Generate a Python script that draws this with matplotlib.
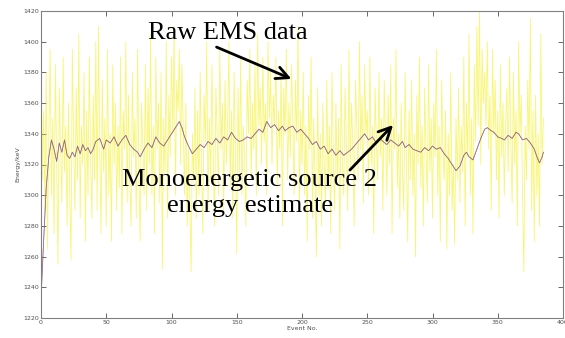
import numpy as np
import matplotlib
matplotlib.use("Agg")
import matplotlib.pyplot as plt

# raw EMS energy per event (events 0..385)
raw_energy = [
    1400, 1310, 1355, 1290, 1380, 1265, 1340, 1395, 1300, 1350, 1275, 1385, 1320, 1255, 1370, 1330, 1295, 1390, 1315, 1345,
    1280, 1360, 1300, 1258, 1395, 1335, 1290, 1370, 1310, 1405, 1285, 1345, 1320, 1380, 1270, 1355, 1300, 1390, 1325, 1285,
    1365, 1310, 1400, 1290, 1410, 1330, 1275, 1375, 1315, 1350, 1280, 1395, 1300, 1340, 1270, 1385, 1320, 1360, 1290, 1345,
    1305, 1390, 1275, 1355, 1330, 1400, 1295, 1365, 1310, 1280, 1380, 1325, 1350, 1285, 1395, 1315, 1270, 1360, 1335, 1300,
    1385, 1290, 1370, 1320, 1405, 1300, 1345, 1275, 1390, 1330, 1360, 1295, 1380, 1252, 1350, 1315, 1400, 1285, 1365, 1325,
    1390, 1340, 1410, 1300, 1375, 1355, 1395, 1320, 1385, 1345, 1300, 1360, 1280, 1330, 1295, 1250, 1340, 1310, 1370, 1285,
    1355, 1300, 1380, 1320, 1275, 1365, 1335, 1400, 1290, 1350, 1310, 1385, 1325, 1280, 1370, 1340, 1300, 1395, 1330, 1360,
    1290, 1375, 1320, 1345, 1400, 1305, 1355, 1285, 1380, 1330, 1262, 1370, 1315, 1390, 1300, 1345, 1325, 1280, 1375, 1340,
    1395, 1310, 1360, 1330, 1385, 1300, 1405, 1345, 1370, 1320, 1390, 1335, 1360, 1300, 1400, 1350, 1380, 1320, 1365, 1345,
    1390, 1305, 1355, 1330, 1380, 1280, 1370, 1340, 1395, 1310, 1360, 1325, 1385, 1345, 1300, 1375, 1335, 1410, 1290, 1355,
    1320, 1380, 1300, 1345, 1270, 1365, 1330, 1390, 1285, 1350, 1310, 1260, 1370, 1300, 1340, 1280, 1360, 1320, 1295, 1375,
    1305, 1345, 1275, 1380, 1325, 1290, 1360, 1310, 1350, 1265, 1385, 1320, 1300, 1370, 1335, 1290, 1395, 1315, 1360, 1330,
    1280, 1375, 1345, 1310, 1400, 1330, 1365, 1295, 1385, 1340, 1355, 1300, 1390, 1320, 1345, 1275, 1370, 1335, 1310, 1380,
    1325, 1350, 1290, 1375, 1340, 1300, 1365, 1320, 1385, 1275, 1350, 1330, 1395, 1305, 1340, 1285, 1360, 1315, 1290, 1380,
    1325, 1270, 1355, 1310, 1375, 1300, 1340, 1260, 1365, 1320, 1390, 1305, 1345, 1280, 1370, 1330, 1295, 1385, 1315, 1350,
    1285, 1360, 1325, 1395, 1300, 1345, 1270, 1375, 1330, 1310, 1355, 1265, 1340, 1300, 1380, 1290, 1320, 1268, 1350, 1310,
    1370, 1295, 1345, 1315, 1390, 1280, 1360, 1325, 1405, 1300, 1350, 1275, 1385, 1335, 1410, 1345, 1420, 1320, 1395, 1360,
    1380, 1345, 1400, 1330, 1365, 1290, 1395, 1340, 1375, 1310, 1355, 1285, 1385, 1325, 1360, 1300, 1345, 1370, 1315, 1390,
    1335, 1295, 1380, 1320, 1355, 1280, 1400, 1340, 1365, 1300, 1250, 1345, 1310, 1375, 1330, 1415, 1290, 1355, 1270, 1365,
    1300, 1340, 1280, 1405, 1320, 1350,
]
raw_events = np.arange(len(raw_energy))

# energy estimate of the monoenergetic source
est_events = [
    0, 2, 4, 6, 8, 10, 12, 14, 16, 18, 20, 22, 24, 26, 28, 30, 32, 34, 36, 38,
    40, 42, 45, 48, 50, 53, 56, 59, 62, 65, 68, 71, 74, 76, 79, 82, 85, 88, 91, 94,
    97, 100, 103, 106, 108, 110, 113, 116, 119, 122, 125, 128, 131, 134, 137, 140, 143, 146, 149, 152,
    155, 158, 161, 164, 167, 170, 173, 176, 179, 182, 185, 187, 190, 193, 196, 199, 202, 205, 208, 211,
    214, 217, 220, 223, 226, 229, 232, 235, 238, 241, 244, 248, 251, 254, 257, 260, 262, 265, 268, 271,
    274, 277, 279, 282, 285, 288, 291, 294, 297, 300, 303, 306, 309, 312, 315, 318, 321, 324, 326, 328,
    331, 334, 337, 340, 342, 345, 347, 350, 353, 355, 358, 361, 364, 366, 369, 372, 375, 378, 380, 382,
    384, 385,
]
est_energy = [
    1232, 1270, 1305, 1325, 1336, 1330, 1322, 1334, 1328, 1336, 1326, 1324, 1328, 1325, 1332, 1327, 1333, 1329, 1331, 1327,
    1330, 1335, 1337, 1330, 1336, 1334, 1338, 1332, 1336, 1339, 1333, 1330, 1328, 1325, 1330, 1334, 1331, 1338, 1334, 1332,
    1336, 1340, 1344, 1348, 1344, 1338, 1332, 1327, 1330, 1333, 1331, 1335, 1333, 1337, 1334, 1338, 1336, 1341, 1337, 1335,
    1336, 1338, 1337, 1340, 1343, 1341, 1348, 1344, 1346, 1342, 1345, 1342, 1344, 1345, 1341, 1343, 1340, 1337, 1333, 1335,
    1330, 1332, 1327, 1330, 1326, 1329, 1326, 1328, 1330, 1333, 1336, 1340, 1336, 1338, 1334, 1337, 1335, 1333, 1336, 1334,
    1332, 1335, 1331, 1333, 1330, 1329, 1328, 1331, 1329, 1332, 1330, 1331, 1327, 1324, 1320, 1316, 1319, 1326, 1328, 1325,
    1323, 1330, 1337, 1343, 1344, 1342, 1341, 1338, 1337, 1336, 1339, 1337, 1341, 1340, 1336, 1337, 1334, 1330, 1325, 1321,
    1325, 1328,
]

x_ticks = [0, 50, 100, 150, 200, 250, 300, 350, 400]
y_ticks = [1220, 1240, 1260, 1280, 1300, 1320, 1340, 1360, 1380, 1400, 1420]

fig = plt.figure(figsize=(5.65, 3.38), dpi=100)
ax = fig.add_axes([41 / 565, 1 - 318 / 338, 522 / 565, 307 / 338])

ax.plot(raw_events, raw_energy, color='#f2ee00', linewidth=0.6, alpha=0.55)
ax.plot(est_events, est_energy, color='#c05050', linewidth=0.6, alpha=0.6)
ax.plot(est_events, est_energy, color='#6a5a90', linewidth=0.5, alpha=0.75)

ax.set_xlim(0, 400)
ax.set_ylim(1220, 1420)
ax.set_xticks(x_ticks)
ax.set_yticks(y_ticks)
ax.tick_params(direction='in', length=3.5, width=0.6, labelsize=4.5,
               colors='#505050', top=True, right=True, pad=1.5)
for s in ax.spines.values():
    s.set_color('#808080')
    s.set_linewidth(0.8)
ax.set_xlabel('Event No.', fontsize=4.5, color='#505050', labelpad=1)
ax.set_ylabel('Energy/keV', fontsize=4.5, color='#505050', labelpad=2)

# annotations in serif, positioned in figure pixels
def fp(px, py):
    return (px / 565, 1 - py / 338)

fig.text(*fp(228, 33), 'Raw EMS data', fontsize=19, family='Liberation Serif',
         ha='center', va='center')
fig.text(*fp(250, 193), 'Monoenergetic source 2\nenergy estimate', fontsize=19,
         family='Liberation Serif', ha='center', va='center', linespacing=1.2)

arrow = dict(arrowstyle='->', lw=2.0, color='black', mutation_scale=22)
ax.annotate('', xy=fp(294, 80), xytext=fp(214, 46), xycoords='figure fraction',
            textcoords='figure fraction', arrowprops=arrow)
ax.annotate('', xy=fp(395, 123), xytext=fp(348, 172), xycoords='figure fraction',
            textcoords='figure fraction', arrowprops=arrow)

fig.savefig('out.png', dpi=100)
